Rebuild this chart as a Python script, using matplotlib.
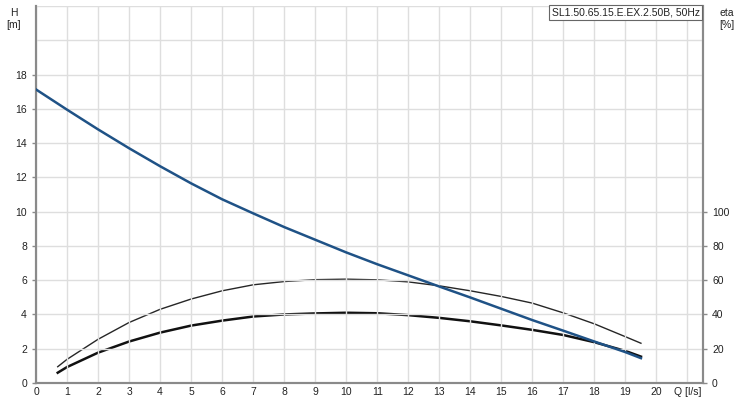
import matplotlib
matplotlib.use("Agg")
import matplotlib.pyplot as plt
from matplotlib.ticker import FixedLocator

plt.rcParams['font.family'] = ['Liberation Sans', 'DejaVu Sans']

# Head curve H [m] vs Q [l/s]
q_h = [0, 1, 2, 3, 4, 5, 6, 7, 8, 9, 10, 11, 12, 13, 14, 15, 16, 17, 18, 19, 19.5]
h = [17.13, 15.95, 14.8, 13.7, 12.65, 11.65, 10.72, 9.9, 9.1, 8.36, 7.62, 6.93, 6.28, 5.63, 4.99, 4.33, 3.67, 3.05, 2.42, 1.8, 1.45]

# Efficiency curves eta [%]
q_e = [0.7, 1, 2, 3, 4, 5, 6, 7, 8, 9, 10, 11, 12, 13, 14, 15, 16, 17, 18, 19, 19.5]
eta_upper = [9.5, 13.8, 25.5, 35.3, 43.0, 49.0, 53.8, 57.3, 59.2, 60.3, 60.6, 60.2, 59.0, 56.7, 53.8, 50.5, 46.6, 40.9, 34.5, 27.0, 23.2]
eta_lower = [6.0, 9.3, 17.7, 24.2, 29.4, 33.5, 36.4, 38.8, 40.0, 40.6, 41.0, 40.7, 39.6, 38.0, 36.0, 33.6, 31.0, 28.0, 23.8, 18.7, 15.4]

x_ticks = list(range(0, 21))
h_ticks = [0, 2, 4, 6, 8, 10, 12, 14, 16, 18]
eta_ticks = [0, 20, 40, 60, 80, 100]
title_text = "SL1.50.65.15.E.EX.2.50B, 50Hz"

fig = plt.figure(figsize=(7.43, 4.0), dpi=100)
ax = fig.add_axes([36/743, 17/400, (703-36)/743, (383-6)/400])
ax2 = ax.twinx()

spine_c = '#8a8a8a'
grid_c = '#dedede'
txt_c = '#222222'
for a in (ax, ax2):
    a.spines['top'].set_visible(False)
    for s in ('left', 'right', 'bottom'):
        a.spines[s].set_color(spine_c)
        a.spines[s].set_linewidth(1.5)

ax.set_xlim(0, 21.5)
ax.set_ylim(0, 22)
ax2.set_ylim(0, 220)

ax.set_xticks(list(range(0, 22)))
ax.set_xticklabels([str(v) for v in x_ticks] + ['Q [l/s]'])
ax.set_yticks(h_ticks)
ax.set_yticklabels([str(v) for v in h_ticks])
ax.yaxis.set_minor_locator(FixedLocator([20, 22]))
ax2.set_yticks(eta_ticks)
ax2.set_yticklabels([str(v) for v in eta_ticks])

ax.grid(True, which='both', color=grid_c, linewidth=1)
ax.set_axisbelow(True)
ax.tick_params(axis='x', length=0, labelsize=7.5, pad=3, labelcolor=txt_c)
ax.tick_params(axis='y', which='major', length=3, width=1, color=spine_c, labelsize=7.5, labelcolor=txt_c)
ax.tick_params(axis='y', which='minor', length=0)
ax2.tick_params(axis='y', length=3, width=1, color=spine_c, labelsize=7.5, labelcolor=txt_c)

ax2.plot(q_e, eta_upper, color='#262626', linewidth=1.0)
ax2.plot(q_e, eta_lower, color='#111111', linewidth=1.8)
ax.plot(q_h, h, color='#1f5286', linewidth=1.8, zorder=5)
ax.set_zorder(ax2.get_zorder() + 1)
ax.patch.set_visible(False)

fig.text(14/743, 1 - 13/400, "H", fontsize=7.5, ha='center', va='center', color=txt_c)
fig.text(14/743, 1 - 25/400, "[m]", fontsize=7.5, ha='center', va='center', color=txt_c)
fig.text(727/743, 1 - 13/400, "eta", fontsize=7.5, ha='center', va='center', color=txt_c)
fig.text(727/743, 1 - 25/400, "[%]", fontsize=7.5, ha='center', va='center', color=txt_c)

ax.text(0.995, 0.997, title_text, transform=ax.transAxes, ha='right', va='top',
        fontsize=7.5, color=txt_c, zorder=10,
        bbox=dict(boxstyle='square,pad=0.25', facecolor='white', edgecolor='#666666', linewidth=0.8))

fig.savefig('out.png', dpi=100)
